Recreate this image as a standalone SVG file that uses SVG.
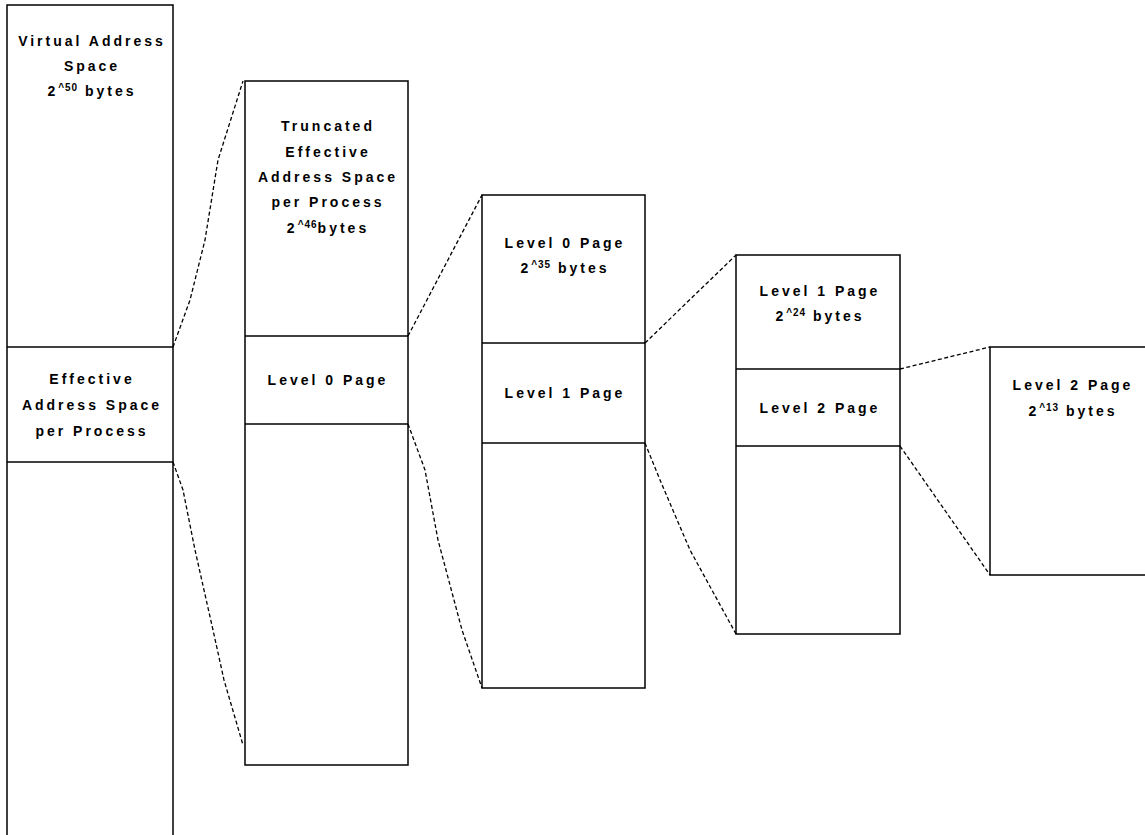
<svg xmlns="http://www.w3.org/2000/svg" width="1145" height="835" viewBox="0 0 1145 835">
  <style>
    .box { fill: #ffffff; stroke: #000000; stroke-width: 1.5; }
    .div { stroke: #000000; stroke-width: 1.5; }
    .zoom { fill: none; stroke: #000000; stroke-width: 1.3; stroke-dasharray: 4 2.5; }
    text { font-family: "Liberation Sans", Arial, sans-serif; font-weight: bold; font-size: 14px; letter-spacing: 3px; fill: #000000; text-anchor: middle; }
    .sup { font-size: 10px; letter-spacing: 1px; }
  </style>
  <rect width="1145" height="835" fill="#ffffff"/>

  <!-- Virtual address space column -->
  <g id="virtual-space">
    <rect class="box" x="7" y="5" width="166" height="850"/>
    <line class="div" x1="7" y1="347" x2="173" y2="347"/>
    <line class="div" x1="7" y1="462" x2="173" y2="462"/>
    <text x="92" y="46">Virtual Address</text>
    <text x="92" y="71">Space</text>
    <text x="92" y="96">2<tspan class="sup" dy="-5">^50</tspan><tspan dy="5"> bytes</tspan></text>
    <text x="92" y="384">Effective</text>
    <text x="92" y="410">Address Space</text>
    <text x="92" y="436">per Process</text>
  </g>

  <!-- Truncated effective address space -->
  <g id="truncated-space">
    <rect class="box" x="245" y="81" width="163" height="684"/>
    <line class="div" x1="245" y1="336" x2="408" y2="336"/>
    <line class="div" x1="245" y1="424" x2="408" y2="424"/>
    <text x="328" y="131">Truncated</text>
    <text x="328" y="157">Effective</text>
    <text x="328" y="182">Address Space</text>
    <text x="328" y="207">per Process</text>
    <text x="328" y="233">2<tspan class="sup" dy="-5">^46</tspan><tspan dy="5">bytes</tspan></text>
    <text x="328" y="385">Level 0 Page</text>
  </g>

  <!-- Level 0 page -->
  <g id="level0-page">
    <rect class="box" x="482" y="195" width="163" height="493"/>
    <line class="div" x1="482" y1="343" x2="645" y2="343"/>
    <line class="div" x1="482" y1="443" x2="645" y2="443"/>
    <text x="565" y="248">Level 0 Page</text>
    <text x="565" y="273">2<tspan class="sup" dy="-5">^35</tspan><tspan dy="5"> bytes</tspan></text>
    <text x="565" y="398">Level 1 Page</text>
  </g>

  <!-- Level 1 page -->
  <g id="level1-page">
    <rect class="box" x="736" y="255" width="164" height="379"/>
    <line class="div" x1="736" y1="369" x2="900" y2="369"/>
    <line class="div" x1="736" y1="446" x2="900" y2="446"/>
    <text x="820" y="296">Level 1 Page</text>
    <text x="820" y="321">2<tspan class="sup" dy="-5">^24</tspan><tspan dy="5"> bytes</tspan></text>
    <text x="820" y="413">Level 2 Page</text>
  </g>

  <!-- Level 2 page -->
  <g id="level2-page">
    <rect class="box" x="990" y="347" width="165" height="228"/>
    <text x="1073" y="390">Level 2 Page</text>
    <text x="1073" y="416">2<tspan class="sup" dy="-5">^13</tspan><tspan dy="5"> bytes</tspan></text>
  </g>

  <!-- Dashed zoom-in guides -->
  <g id="connectors">
    <polyline class="zoom" points="173,347 190,300 205,240 218,160 243,81"/>
    <polyline class="zoom" points="173,462 183,490 195,550 213,630 224,680 243,745"/>
    <line class="zoom" x1="408" y1="336" x2="482" y2="195"/>
    <polyline class="zoom" points="408,424 425,470 438,540 462,630 482,688"/>
    <line class="zoom" x1="645" y1="343" x2="736" y2="255"/>
    <polyline class="zoom" points="645,443 660,480 690,550 736,634"/>
    <line class="zoom" x1="900" y1="369" x2="990" y2="347"/>
    <line class="zoom" x1="900" y1="446" x2="990" y2="575"/>
  </g>
</svg>
